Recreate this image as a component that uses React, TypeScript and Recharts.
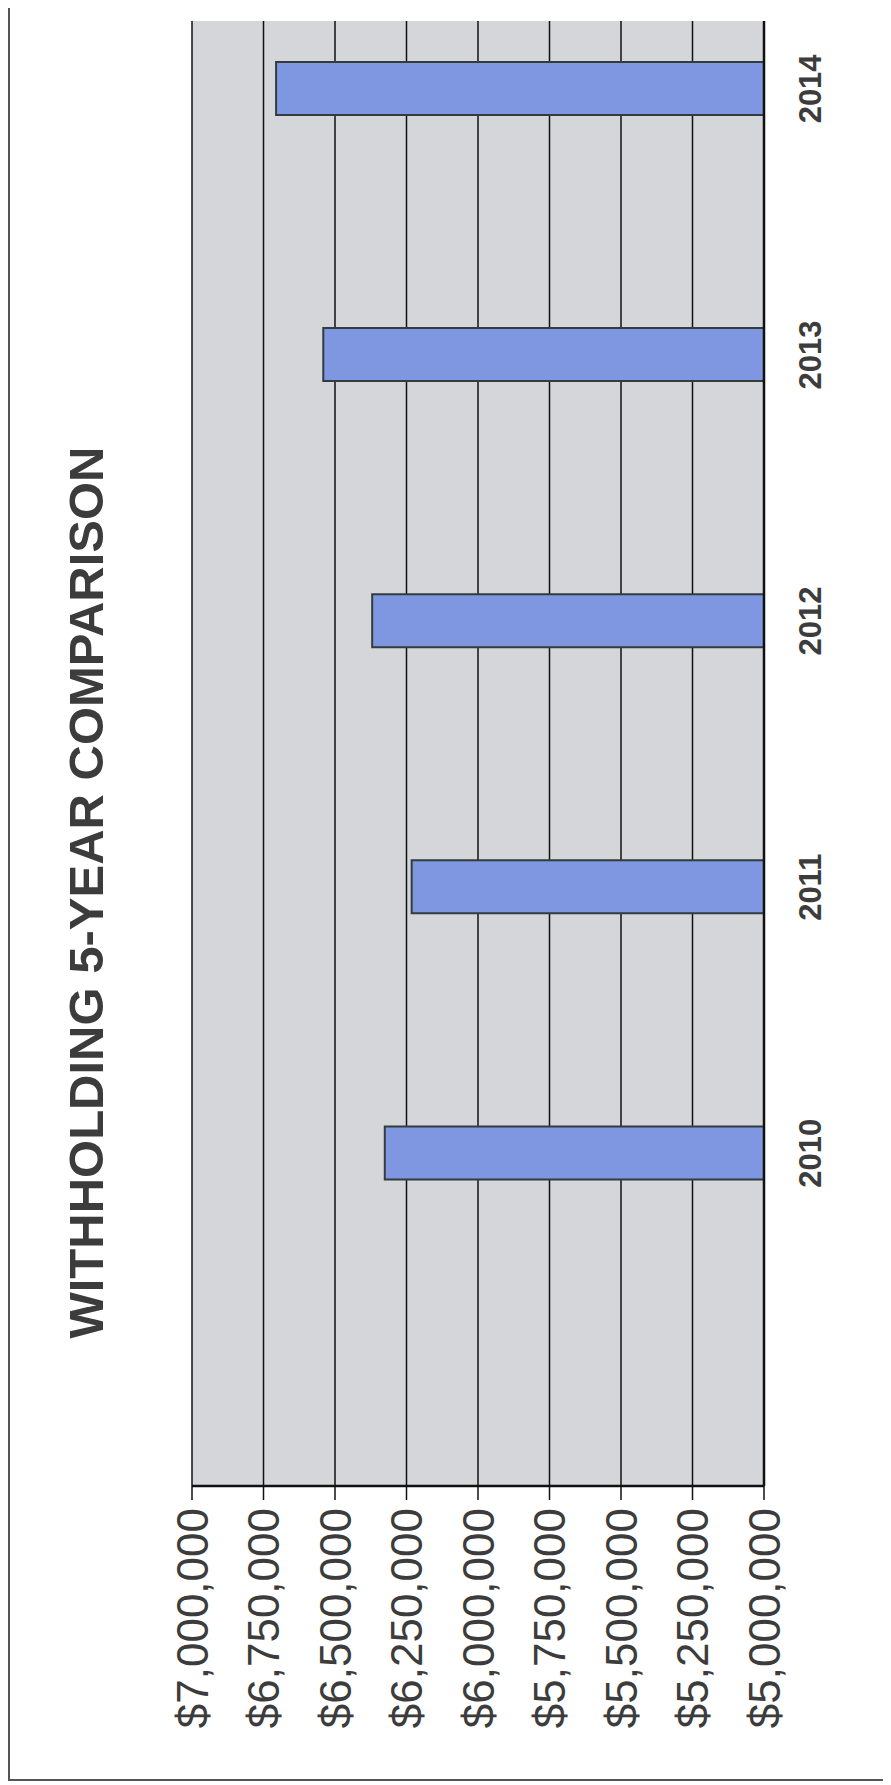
import React from 'react';
import { BarChart, Bar, XAxis, YAxis, CartesianGrid } from 'recharts';

const years = [2010, 2011, 2012, 2013, 2014];
const withholding = [6326000, 6232000, 6370000, 6541000, 6706000];
const valueTicks = [5000000, 5250000, 5500000, 5750000, 6000000, 6250000, 6500000, 6750000, 7000000];
const yearDomain = [2008.75, 2014.255];

const data = years.map((year, i) => ({ year, amount: withholding[i] }));

const FONT = '"Liberation Sans", Arial, sans-serif';
const PAGE_W = 891;
const PAGE_H = 1785;

const money = (v: number) => '$' + v.toLocaleString('en-US');

export default function App() {
  return (
    <div
      style={{
        position: 'relative',
        width: PAGE_W,
        height: PAGE_H,
        margin: '-8px 0 0 -8px',
        overflow: 'hidden',
        background: '#fff',
        fontFamily: FONT,
      }}
    >
      {/* page frame */}
      <div
        style={{
          position: 'absolute',
          left: 8,
          top: -4,
          width: 880,
          height: 1785,
          boxSizing: 'border-box',
          border: '2px solid #555',
        }}
      />
      {/* the chart is printed sideways, so draw it upright and turn it */}
      <div
        style={{
          position: 'absolute',
          left: 0,
          top: PAGE_H,
          width: PAGE_H,
          height: PAGE_W,
          transformOrigin: 'top left',
          transform: 'rotate(-90deg)',
        }}
      >
        <div
          style={{
            position: 'absolute',
            top: 58,
            left: 0,
            width: PAGE_H,
            textAlign: 'center',
            fontSize: 49,
            fontWeight: 'bold',
            color: '#3c3c3c',
            lineHeight: '56px',
          }}
        >
          WITHHOLDING 5-YEAR COMPARISON
        </div>
        <BarChart
          width={PAGE_H}
          height={PAGE_W}
          data={data}
          margin={{ top: 192, right: 21, bottom: 57, left: 0 }}
        >
          <CartesianGrid
            vertical={false}
            stroke="#111"
            strokeWidth={1.5}
            fill="#d5d6da"
            fillOpacity={1}
          />
          <XAxis
            dataKey="year"
            type="number"
            domain={yearDomain}
            ticks={years}
            allowDataOverflow
            height={70}
            tickLine={false}
            tickSize={0}
            tickMargin={35}
            axisLine={{ stroke: '#111', strokeWidth: 2.5 }}
            tickFormatter={(v) => String(v)}
            tick={{ fontSize: 31, fontWeight: 'bold', fill: '#3c3c3c', fontFamily: FONT }}
          />
          <YAxis
            domain={[5000000, 7000000]}
            ticks={valueTicks}
            width={299}
            tickSize={14}
            tickMargin={8}
            tickFormatter={money}
            axisLine={{ stroke: '#111', strokeWidth: 2.5 }}
            tickLine={{ stroke: '#111', strokeWidth: 1.5 }}
            tick={{ fontSize: 44, fill: '#3c3c3c', fontFamily: FONT }}
          />
          <YAxis
            yAxisId="edge"
            orientation="right"
            width={0}
            domain={[5000000, 7000000]}
            tick={false}
            tickLine={false}
            axisLine={{ stroke: '#111', strokeWidth: 2.5 }}
          />
          <Bar
            dataKey="amount"
            barSize={53}
            fill="#7f96e1"
            stroke="#333c3c"
            strokeWidth={2}
            isAnimationActive={false}
          />
        </BarChart>
      </div>
    </div>
  );
}
